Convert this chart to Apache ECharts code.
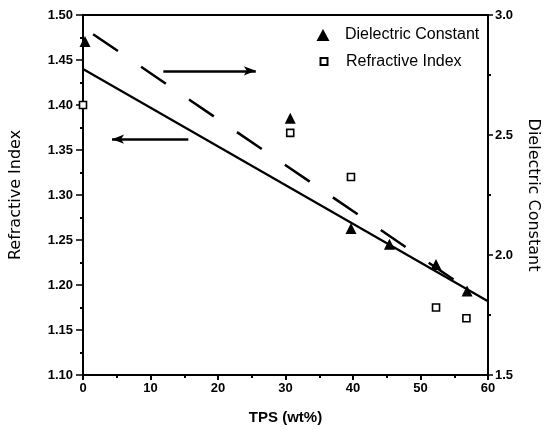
<!DOCTYPE html>
<html>
<head>
<meta charset="utf-8">
<script src="https://cdn.jsdelivr.net/npm/echarts@6/dist/echarts.min.js"></script>
<style>
html,body{margin:0;padding:0;background:#fff;}
#chart{width:545px;height:429px;}
</style>
</head>
<body>
<div id="chart"></div>
<script>
// ---- data ----
var xTicks = [0, 10, 20, 30, 40, 50, 60];
var leftTicks = ['1.10','1.15','1.20','1.25','1.30','1.35','1.40','1.45','1.50'];
var rightTicks = ['1.5','2.0','2.5','3.0'];

var riX = [0, 30.7, 39.7, 52.3, 56.8];
var riY = [1.400, 1.369, 1.320, 1.175, 1.163];

var dcX = [0.3, 30.7, 39.7, 45.4, 52.3, 56.9];
var dcY = [2.89, 2.57, 2.11, 2.045, 1.96, 1.85];

var riFitX = [0, 60];
var riFitY = [1.440, 1.182];

var dcFitX = [1.5, 55.4];
var dcFitY = [2.92, 1.888];

// annotation arrows: [xStart, xEnd, y] on refractive-index axis
var arrowLeft = [15.6, 4.3, 1.362];
var arrowRight = [11.9, 25.6, 1.438];

function zip(a, b) { return a.map(function (v, i) { return [v, b[i]]; }); }

var FONT = 'Liberation Sans, Arial, sans-serif';
var NAMEFONT = 'DejaVu Sans, sans-serif';
var chart = echarts.init(document.getElementById('chart'), null, {renderer: 'canvas'});

chart.setOption({
  animation: false,
  backgroundColor: '#fff',
  grid: {left: 83, right: 57, top: 15, bottom: 54, outerBoundsMode: 'none', containLabel: false,
    show: true, borderColor: '#000', borderWidth: 2, backgroundColor: 'transparent'},
  legend: [{
    data: ['Dielectric Constant'],
    left: 316.5, top: 27, orient: 'vertical', padding: 0,
    itemWidth: 13, itemHeight: 12,
    textStyle: {fontFamily: FONT, fontSize: 16, color: '#000', padding: [0, 0, 0, 10.5]}
  }, {
    data: ['Refractive Index'],
    left: 319.5, top: 53.5, orient: 'vertical', padding: 0,
    itemWidth: 7, itemHeight: 7,
    textStyle: {fontFamily: FONT, fontSize: 16, color: '#000', padding: [0, 0, 0, 13.5]}
  }],
  xAxis: {
    type: 'value', min: 0, max: 60, interval: 10,
    name: 'TPS (wt%)', nameLocation: 'middle', nameGap: 35,
    nameTextStyle: {fontFamily: FONT, fontSize: 15, fontWeight: 'bold', color: '#000'},
    axisLine: {show: true, lineStyle: {color: '#000', width: 2}},
    axisTick: {show: true, length: 5, lineStyle: {color: '#000', width: 2}},
    minorTick: {show: true, splitNumber: 2, length: 3, lineStyle: {color: '#000', width: 2}},
    splitLine: {show: false},
    axisLabel: {margin: 7, fontFamily: FONT, fontSize: 13, fontWeight: 'bold', color: '#000',
      formatter: function (v) { return xTicks.indexOf(v) >= 0 ? String(v) : ''; }}
  },
  yAxis: [{
    type: 'value', min: 1.1, max: 1.5, interval: 0.05, position: 'left',
    name: 'Refractive Index', nameLocation: 'middle', nameGap: 59,
    nameTextStyle: {fontFamily: NAMEFONT, fontSize: 16, color: '#000'},
    axisLine: {show: true, lineStyle: {color: '#000', width: 2}},
    axisTick: {show: true, length: 7, lineStyle: {color: '#000', width: 1.5}},
    minorTick: {show: true, splitNumber: 2, length: 3, lineStyle: {color: '#000', width: 2}},
    splitLine: {show: false},
    axisLabel: {margin: 10, fontFamily: FONT, fontSize: 13, fontWeight: 'bold', color: '#000',
      formatter: function (v) { return leftTicks[Math.round((v - 1.1) / 0.05)]; }}
  }, {
    type: 'value', min: 1.5, max: 3.0, interval: 0.5, position: 'right',
    name: 'Dielectric Constant', nameLocation: 'middle', nameGap: 37, nameRotate: -90,
    nameTextStyle: {fontFamily: NAMEFONT, fontSize: 16, color: '#000'},
    axisLine: {show: true, lineStyle: {color: '#000', width: 2}},
    axisTick: {show: true, length: 5, lineStyle: {color: '#000', width: 1.5}},
    minorTick: {show: true, splitNumber: 2, length: 3, lineStyle: {color: '#000', width: 2}},
    splitLine: {show: false},
    axisLabel: {margin: 7, fontFamily: FONT, fontSize: 13, fontWeight: 'bold', color: '#000',
      formatter: function (v) { return rightTicks[Math.round((v - 1.5) / 0.5)]; }}
  }],
  series: [{
    name: 'Refractive Index fit', type: 'line', yAxisIndex: 0,
    data: zip(riFitX, riFitY), showSymbol: false, symbol: 'none',
    lineStyle: {color: '#000', width: 2.2}, silent: true,
    markLine: {
      silent: true, symbol: ['none', 'arrow'], symbolSize: [7, 12],
      label: {show: false},
      lineStyle: {color: '#000', width: 2.5, type: 'solid'},
      data: [
        [{coord: [arrowLeft[0], arrowLeft[2]]}, {coord: [arrowLeft[1], arrowLeft[2]]}],
        [{coord: [arrowRight[0], arrowRight[2]]}, {coord: [arrowRight[1], arrowRight[2]]}]
      ]
    }
  }, {
    name: 'Dielectric Constant fit', type: 'line', yAxisIndex: 1,
    data: zip(dcFitX, dcFitY), showSymbol: false, symbol: 'none',
    lineStyle: {color: '#000', width: 2.5, type: [30, 28], cap: 'butt'}, silent: true
  }, {
    name: 'Dielectric Constant', type: 'scatter', yAxisIndex: 1,
    data: zip(dcX, dcY), symbol: 'triangle', symbolSize: 11,
    itemStyle: {color: '#000', opacity: 1}
  }, {
    name: 'Refractive Index', type: 'scatter', yAxisIndex: 0,
    data: zip(riX, riY), symbol: 'rect', symbolSize: 7,
    itemStyle: {color: '#fff', borderColor: '#000', borderWidth: 1.6, opacity: 1}
  }]
});
</script>
</body>
</html>
